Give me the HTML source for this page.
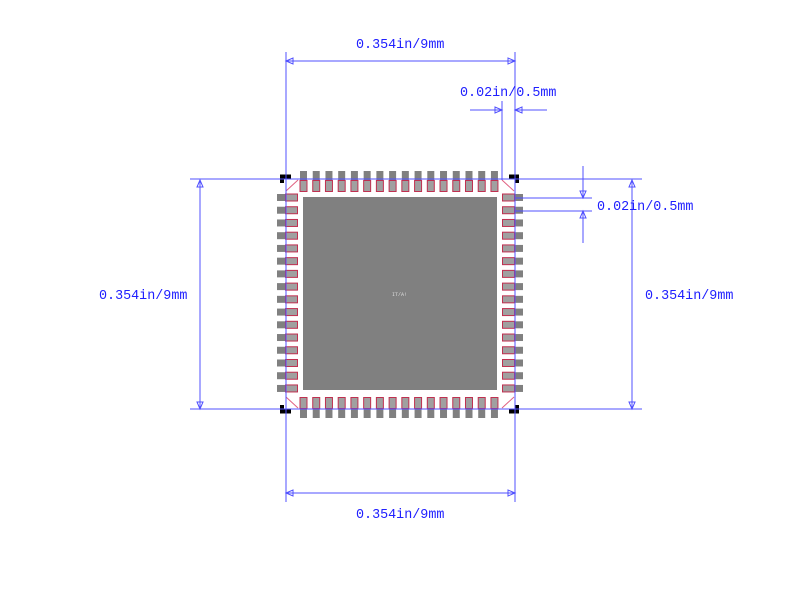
<!DOCTYPE html>
<html><head><style>
body{margin:0;background:#fff;width:800px;height:607px;overflow:hidden}
text{font-family:"Liberation Mono",monospace;font-size:13.4px;fill:#2020ff}
</style></head><body>
<svg id="s" width="800" height="607" xmlns="http://www.w3.org/2000/svg">
<rect x="303" y="197" width="194" height="193" fill="#808080"/>
<g id="pads"></g>
<text x="392" y="296" style="font-size:5px;fill:#ddd">IT/A!</text>
<g stroke="#e06080" stroke-width="1">
<line x1="286" y1="191" x2="298" y2="180"/>
<line x1="502" y1="180" x2="514" y2="191"/>
<line x1="286" y1="397" x2="298" y2="408"/>
<line x1="502" y1="408" x2="514" y2="397"/>
</g>
<g stroke="#000" stroke-width="4" fill="none">
<polyline points="282,183 282,176.5 291,176.5"/>
<polyline points="509,176.5 517,176.5 517,183"/>
<polyline points="282,405 282,411.5 291,411.5"/>
<polyline points="509,411.5 517,411.5 517,405"/>
</g>
<g stroke="#5050ff" stroke-width="1" fill="none">
<line x1="286" y1="52" x2="286" y2="502"/>
<line x1="515" y1="52" x2="515" y2="502"/>
<line x1="502" y1="101" x2="502" y2="180"/>
<line x1="286" y1="61" x2="515" y2="61"/>
<line x1="286" y1="493" x2="515" y2="493"/>
<line x1="190" y1="179" x2="642" y2="179"/>
<line x1="190" y1="409" x2="642" y2="409"/>
<line x1="200" y1="180" x2="200" y2="409"/>
<line x1="632" y1="180" x2="632" y2="409"/>
<line x1="470" y1="110" x2="502" y2="110"/>
<line x1="515" y1="110" x2="547" y2="110"/>
<line x1="515" y1="198" x2="592" y2="198"/>
<line x1="515" y1="211" x2="592" y2="211"/>
<line x1="583" y1="166" x2="583" y2="198"/>
<line x1="583" y1="211" x2="583" y2="243"/>
<polygon points="286,61 293,58 293,64"/>
<polygon points="515,61 508,58 508,64"/>
<polygon points="286,493 293,490 293,496"/>
<polygon points="515,493 508,490 508,496"/>
<polygon points="200,180 197,187 203,187"/>
<polygon points="200,409 197,402 203,402"/>
<polygon points="632,180 629,187 635,187"/>
<polygon points="632,409 629,402 635,402"/>
<polygon points="502,110 495,107 495,113"/>
<polygon points="515,110 522,107 522,113"/>
<polygon points="583,198 580,191 586,191"/>
<polygon points="583,211 580,218 586,218"/>
</g>
<text x="356" y="48">0.354in/9mm</text>
<text x="356" y="518">0.354in/9mm</text>
<text x="99" y="299">0.354in/9mm</text>
<text x="645" y="299">0.354in/9mm</text>
<text x="460" y="96">0.02in/0.5mm</text>
<text x="597" y="210">0.02in/0.5mm</text>
</svg>
<script>
var g=document.getElementById('pads'),h='';
for(var i=0;i<16;i++){
 var c=303.5+i*12.73;
 h+='<rect x="'+(c-3.5)+'" y="171" width="7" height="21" fill="#808080"/>';
 h+='<rect x="'+(c-3.5)+'" y="180.5" width="7" height="11" fill="#a0a0a0" stroke="#c03050"/>';
 h+='<rect x="'+(c-3.5)+'" y="397" width="7" height="21" fill="#808080"/>';
 h+='<rect x="'+(c-3.5)+'" y="397.5" width="7" height="11" fill="#a0a0a0" stroke="#c03050"/>';
 var y=197.5+i*12.73;
 h+='<rect x="277" y="'+(y-3.5)+'" width="21" height="7" fill="#808080"/>';
 h+='<rect x="285.5" y="'+(y-3.5)+'" width="12" height="7" fill="#a0a0a0" stroke="#c03050"/>';
 h+='<rect x="502" y="'+(y-3.5)+'" width="21" height="7" fill="#808080"/>';
 h+='<rect x="502.5" y="'+(y-3.5)+'" width="12" height="7" fill="#a0a0a0" stroke="#c03050"/>';
}
g.innerHTML=h;
</script>
</body></html>
